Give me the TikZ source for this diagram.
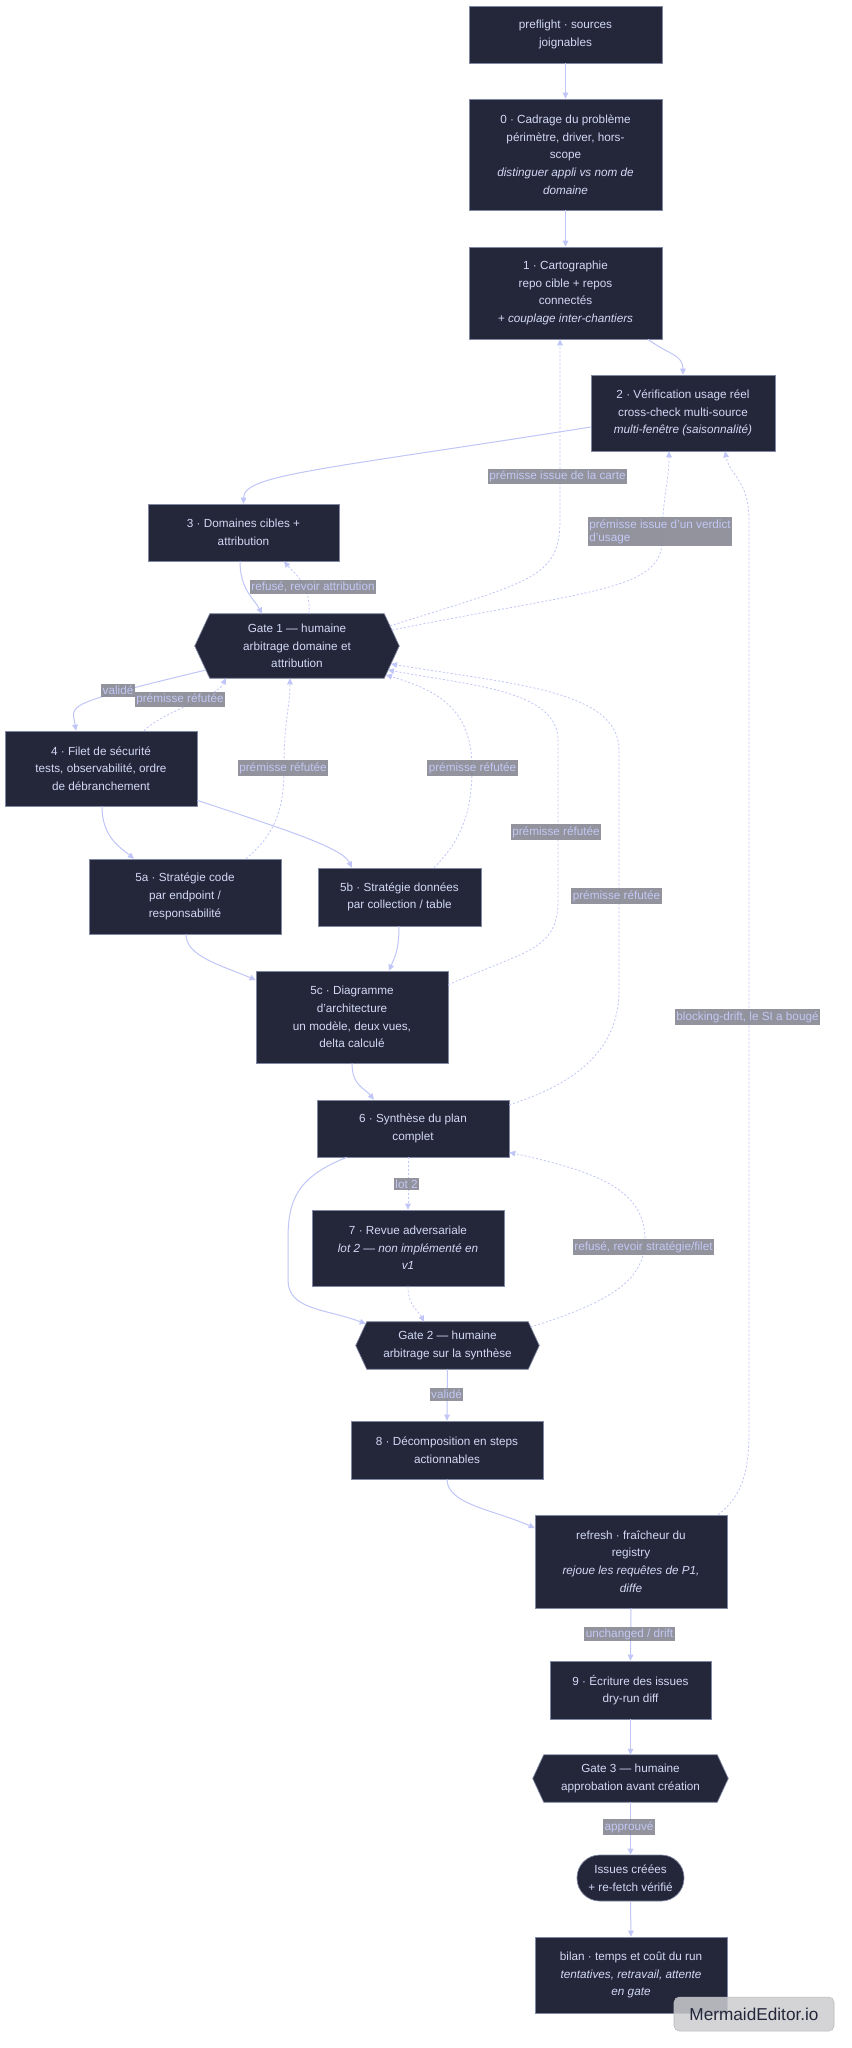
\documentclass[tikz,border=0pt]{standalone}
\usepackage{fontspec}
\setmainfont{Liberation Sans}
\usetikzlibrary{arrows.meta,calc,backgrounds}
\definecolor{nodefill}{HTML}{24273A}
\definecolor{nodeborder}{HTML}{8087A2}
\definecolor{nodetext}{HTML}{D2D8F6}
\definecolor{edgecol}{HTML}{C0C6F8}
\definecolor{lblfill}{HTML}{7F818D}
\definecolor{lbltext}{HTML}{C3C8F5}
\definecolor{wmfill}{HTML}{CDCDD1}
\definecolor{wmborder}{HTML}{B8B8BC}
\newcommand\nf{\fontsize{8.8pt}{13.3pt}\selectfont}
\newcommand\lf{\fontsize{8.8pt}{9.8pt}\selectfont}
\newcommand\wmf{\fontsize{12.9pt}{14pt}\selectfont}
\newcommand\hexbg[2]{\filldraw[fill=nodefill, draw=nodeborder, line width=0.5pt] (#1.north west) -- (#1.north east) -- ($(#1.east)+(#2,0)$) -- (#1.south east) -- (#1.south west) -- ($(#1.west)+(-#2,0)$) -- cycle;}
\tikzset{
  wh/.style 2 args={minimum width=#1*0.75pt, minimum height=#2*0.75pt},
  box/.style={draw=nodeborder, line width=0.5pt, fill=nodefill, text=nodetext, align=center, inner sep=0pt, font=\nf},
  hexin/.style={text=nodetext, align=center, inner sep=0pt, font=\nf},
  e/.style={draw=edgecol, line width=0.75pt, -{Triangle[length=4.5pt,width=4.2pt]}},
  d/.style={e, line width=0.6pt, dash pattern=on 1.5pt off 1.5pt},
  lbl/.style={fill=lblfill, fill opacity=0.85, text opacity=1, text=lbltext, inner xsep=1pt, inner ysep=1.5pt, font=\lf},
  wm/.style={fill=wmfill, fill opacity=0.85, text opacity=1, draw=wmborder, rounded corners=4pt, text=nodefill, font=\wmf, inner sep=0pt}
}
\begin{document}
\begin{tikzpicture}[x=0.75pt,y=-0.75pt]
\useasboundingbox (0,0) rectangle (852,2048);

% nodes
\node[box,wh={193}{57}] (pre) at (565.5,34.5) {preflight · sources\\joignables};
\node[box,wh={193}{111}] (n0) at (565.5,154.5) {0 · Cadrage du problème\\périmètre, driver, hors-\\scope\\\textit{distinguer appli vs nom de}\\\textit{domaine}};
\node[box,wh={193}{92}] (n1) at (565.5,293) {1 · Cartographie\\repo cible + repos\\connectés\\\textit{+ couplage inter-chantiers}};
\node[box,wh={184}{76}] (n2) at (683,413) {2 · Vérification usage réel\\cross-check multi-source\\\textit{multi-fenêtre (saisonnalité)}};
\node[box,wh={191}{57}] (n3) at (243.5,532.5) {3 · Domaines cibles +\\attribution};
\node[hexin,wh={174}{64}] (g1) at (297,646) {Gate 1 — humaine\\arbitrage domaine et\\attribution};
\node[box,wh={192}{75}] (n4) at (101,768.5) {4 · Filet de sécurité\\tests, observabilité, ordre\\de débranchement};
\node[box,wh={192}{75}] (n5a) at (185,896.5) {5a · Stratégie code\\par endpoint /\\responsabilité};
\node[box,wh={163}{58}] (n5b) at (399.5,897) {5b · Stratégie données\\par collection / table};
\node[box,wh={192}{92}] (n5c) at (352,1017) {5c · Diagramme\\d'architecture\\un modèle, deux vues,\\delta calculé};
\node[box,wh={192}{57}] (n6) at (413,1128.5) {6 · Synthèse du plan\\complet};
\node[box,wh={192}{76}] (n7) at (408,1248) {7 · Revue adversariale\\\textit{lot 2 — non implémenté en}\\\textit{v1}};
\node[hexin,wh={161}{47}] (g2) at (447.5,1345.5) {Gate 2 — humaine\\arbitrage sur la synthèse};
\node[box,wh={192}{58}] (n8) at (447,1450) {8 · Décomposition en steps\\actionnables};
\node[box,wh={192}{93}] (ref) at (631,1561.5) {refresh · fraîcheur du\\registry\\\textit{rejoue les requêtes de P1,}\\\textit{diffe}};
\node[box,wh={161}{58}] (n9) at (630.5,1690) {9 · Écriture des issues\\dry-run diff};
\node[hexin,wh={173}{47}] (g3) at (630.5,1778.5) {Gate 3 — humaine\\approbation avant création};
\node[box,rounded corners=17pt,wh={107}{46}] (iss) at (630.5,1878) {Issues créées\\+ re-fetch vérifié};
\node[box,wh={192}{76}] (bilan) at (631,1975) {bilan · temps et coût du run\\\textit{tentatives, retravail, attente}\\\textit{en gate}};

\begin{scope}[on background layer]
\fill[white] (0,0) rectangle (852,2048);
\hexbg{g1}{15}
\hexbg{g2}{11}
\hexbg{g3}{11}
\end{scope}

% edges
\draw[e] (pre) -- (n0);
\draw[e] (n0) -- (n1);
\draw[e] ($(n1.south)+(82.5,0)$) .. controls +(20,15) and +(0,-20) .. (n2.north);
\draw[e] ($(n2.west)+(0,14)$) .. controls +(-271,43) and +(0,-29) .. (n3.north);
\draw[e] ($(n3.south)+(-3.5,0)$) .. controls +(0,28) and +(-8,-15) .. ($(g1.north)+(-35,0)$);
\draw[d] ($(g1.north)+(12,0)$) .. controls +(2,-30) and +(10,12) .. ($(n3.south)+(40.5,0)$);
\draw[d] ($(g1)+(93,-20)$) .. controls +(140,-45) and +(0,60) .. ($(n1.south)+(-5.5,180)$) -- ($(n1.south)+(-5.5,0)$);
\draw[d] ($(g1)+(95,-16)$) .. controls +(200,-40) and +(0,50) .. ($(n2.south)+(-21,89)$) .. controls +(0,-40) and +(0,30) .. ($(n2.south)+(-14,0)$);
\draw[e] ($(g1)+(-91,24)$) .. controls +(-146,35) and +(-4,-26) .. ($(n4.north)+(-25,0)$);
\draw[d] ($(n4.north)+(43,0)$) .. controls +(20,-20) and +(-10,20) .. ($(g1.south)+(-71,0)$);
\draw[e] ($(n4.south)+(1,0)$) .. controls +(0,30) and +(-15,-12) .. ($(n5a.north)+(-51,0)$);
\draw[e] ($(n4.south east)+(0,-6)$) .. controls +(90,30) and +(-10,-20) .. ($(n5b.north)+(-47.5,0)$);
\draw[d] ($(n5a.north)+(61,0)$) .. controls +(30,-25) and +(0,40) .. ($(g1.south)+(-13,90)$) .. controls +(0,-50) and +(0,30) .. ($(g1.south)+(-7,0)$);
\draw[d] ($(n5b.north)+(34.5,0)$) .. controls +(30,-30) and +(0,40) .. ($(n5b.north)+(72.5,-100)$) .. controls +(0,-60) and +(50,15) .. ($(g1)+(89,29)$);
\draw[e] ($(n5a.south)+(1,0)$) .. controls +(0,22) and +(-35,-15) .. ($(n5c.west)+(0,-37)$);
\draw[e] ($(n5b.south)+(-0.5,0)$) .. controls +(0,25) and +(5,-12) .. ($(n5c.north)+(37,0)$);
\draw[d] ($(n5c.north east)+(0,14)$) .. controls +(80,-35) and +(0,50) .. ($(g1)+(261,254)$) -- ($(g1)+(261,94)$) .. controls +(0,-50) and +(80,15) .. ($(g1)+(91,24)$);
\draw[d] ($(n6.north east)+(0,5)$) .. controls +(80,-25) and +(0,50) .. ($(g1)+(322,344)$) -- ($(g1)+(322,104)$) .. controls +(0,-60) and +(120,20) .. ($(g1)+(94,18)$);
\draw[e] (n5c.south) .. controls +(0,22) and +(-10,-12) .. ($(n6.north)+(-39,0)$);
\draw[d] ($(n6.south)+(-5,0)$) -- (n7.north);
\draw[e] ($(n6.south west)+(30,0)$) .. controls +(-50,20) and +(0,-40) .. ($(n6)+(-125,111.5)$) -- ($(n6)+(-125,151.5)$) .. controls +(0,30) and +(-40,-15) .. ($(g2.north west)+(-1,2)$);
\draw[d] (n7.south) .. controls +(0,20) and +(-6,-12) .. ($(g2.north)+(-23.5,0)$);
\draw[d] ($(g2)+(83,-18.5)$) .. controls +(80,-25) and +(0,40) .. ($(n6)+(232,111.5)$) .. controls +(0,-50) and +(90,20) .. ($(n6.south east)+(0,-5)$);
\draw[e] (g2.south) -- (n8.north);
\draw[e] (n8.south) .. controls +(0,25) and +(-40,-18) .. ($(ref.west)+(0,-33.5)$);
\draw[d] ($(ref.north east)+(-9,0)$) .. controls +(25,-20) and +(0,40) .. ($(n2)+(66,1017)$) -- ($(n2)+(66,107)$) .. controls +(0,-40) and +(5,25) .. ($(n2.south)+(42,0)$);
\draw[e] (ref.south) -- (n9.north);
\draw[e] (n9.south) -- (g3.north);
\draw[e] (g3.south) -- (iss.north);
\draw[e] (iss.south) -- (bilan.north);

% labels
\node[lbl] (l1) at (313,587) {refusé, revoir attribution};
\node[lbl] (l2) at (557.5,476.5) {prémisse issue de la carte};
\node[lbl,align=left] (l3) at (660,531.5) {prémisse issue d'un verdict\\d'usage};
\node[lbl] (l4) at (118,690.5) {validé};
\node[lbl] (l5) at (180,699.5) {prémisse réfutée};
\node[lbl] (l6) at (283,768) {prémisse réfutée};
\node[lbl] (l7) at (472.5,768) {prémisse réfutée};
\node[lbl] (l8) at (556,832) {prémisse réfutée};
\node[lbl] (l9) at (616.5,896) {prémisse réfutée};
\node[lbl] (l10) at (747.5,1017) {blocking-drift, le SI a bougé};
\node[lbl] (l11) at (406.5,1184) {lot 2};
\node[lbl] (l12) at (643.5,1247) {refusé, revoir stratégie/filet};
\node[lbl] (l13) at (446.5,1394.5) {validé};
\node[lbl] (l14) at (629.5,1634) {unchanged / drift};
\node[lbl] (l15) at (629,1827) {approuvé};

% watermark
\node[wm,wh={160}{34}] (wmk) at (754,2014) {MermaidEditor.io};
\end{tikzpicture}
\end{document}
